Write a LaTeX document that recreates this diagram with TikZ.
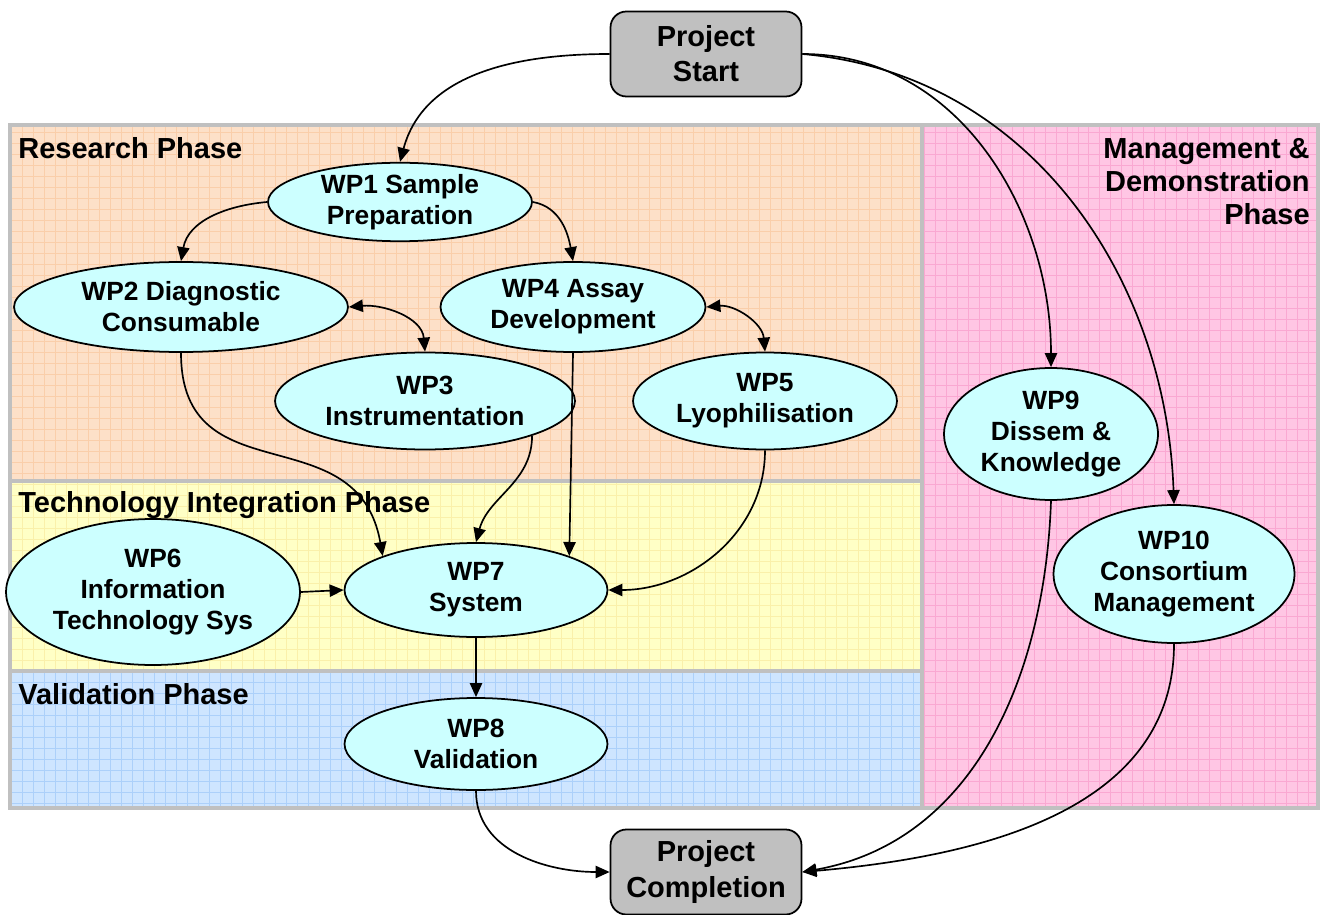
\documentclass[tikz,border=0pt]{standalone}
\usepackage{fontspec}
\setmainfont{Liberation Sans}
\usepackage{tikz}
\usetikzlibrary{positioning,arrows.meta,shapes}
\usepackage{xcolor}
\definecolor{BoxGray}{RGB}{192,192,192}
\definecolor{WPCyan}{RGB}{204,255,255}
\definecolor{ResearchBg}{RGB}{253,224,200}
\definecolor{ResearchGrid}{RGB}{250,206,170}
\definecolor{TechBg}{RGB}{255,255,198}
\definecolor{TechGrid}{RGB}{250,240,170}
\definecolor{ValidBg}{RGB}{206,229,255}
\definecolor{ValidGrid}{RGB}{172,208,250}
\definecolor{MgmtBg}{RGB}{255,198,228}
\definecolor{MgmtGrid}{RGB}{250,168,210}
\newcommand\wpfont{\fontsize{15}{17.6}\selectfont\bfseries}
\newcommand\phasefont{\fontsize{16.5}{18.8}\selectfont\bfseries}
\newcommand\msfont{\fontsize{16.5}{20}\selectfont\bfseries}

\begin{document}
\begin{tikzpicture}[
    x=0.02cm, y=-0.02cm,
    wp/.style={ellipse, draw, line width=1pt, fill=WPCyan, inner sep=0pt, align=center, font=\wpfont},
    milestone/.style={rectangle, rounded corners=9pt, draw, line width=1pt, fill=BoxGray, minimum width=3.82cm, minimum height=1.7cm, align=center, font=\msfont},
    phase/.style={draw=BoxGray, line width=2.3pt},
    title/.style={font=\phasefont, anchor=west, inner sep=0pt},
    link/.style={-{Triangle[length=8pt,width=7pt]}, line width=0.95pt},
    twoway/.style={{Triangle[length=8pt,width=7pt]}-{Triangle[length=8pt,width=7pt]}, line width=0.95pt},
]
\useasboundingbox (0,0) rectangle (1324,915);

\foreach \xa/\ya/\xb/\yb/\c in {10/125/922/481/Research, 10/481/922/671/Tech, 10/671/922/808/Valid, 922/125/1318/808/Mgmt} {
    \fill[\c Bg] (\xa,\ya) rectangle (\xb,\yb);
    \begin{scope}
        \clip (\xa,\ya) rectangle (\xb,\yb);
        \draw[\c Grid, line width=0.35pt, step=0.22cm] (\xa,\ya) grid (\xb,\yb);
    \end{scope}
    \draw[phase] (\xa,\ya) rectangle (\xb,\yb);
}

\node[title] (research) at (18,148) {Research Phase};
\node[title] (tech) at (18,505) {Technology Integration Phase};
\node[title] (valid) at (18,694) {Validation Phase};
\node[font=\phasefont, align=right, anchor=north east, inner sep=0pt] (mgmt) at (1310,138) {Management \&\\Demonstration\\Phase};

\node[milestone] (start) at (706,54) {Project\\Start};
\node[milestone] (finish) at (706,872) {Project\\Completion};

\node[wp, minimum width=5.28cm, minimum height=1.54cm] (wp1) at (400,202) {WP1 Sample\\Preparation};
\node[wp, minimum width=6.68cm, minimum height=1.8cm] (wp2) at (181,307) {WP2 Diagnostic\\Consumable};
\node[wp, minimum width=5.3cm, minimum height=1.8cm] (wp4) at (573,307) {WP4 Assay\\Development};
\node[wp, minimum width=6.0cm, minimum height=1.94cm] (wp3) at (425,401) {WP3\\Instrumentation};
\node[wp, minimum width=5.28cm, minimum height=1.94cm] (wp5) at (765,401) {WP5\\Lyophilisation};
\node[wp, minimum width=5.88cm, minimum height=2.92cm] (wp6) at (153,592) {WP6\\Information\\Technology Sys};
\node[wp, minimum width=5.26cm, minimum height=1.88cm] (wp7) at (476,590) {WP7\\System};
\node[wp, minimum width=5.26cm, minimum height=1.84cm] (wp8) at (476,744) {WP8\\Validation};
\node[wp, minimum width=4.28cm, minimum height=2.64cm] (wp9) at (1051,434) {WP9\\Dissem \&\\Knowledge};
\node[wp, minimum width=4.82cm, minimum height=2.76cm] (wp10) at (1174,574) {WP10\\Consortium\\Management};

\draw[link] (start.west) to[out=180, in=75] (wp1.north);
\draw[link] (start.east) to[out=0, in=90] (wp9.north);
\draw[link] (start.east) to[out=-5, in=92] (wp10.north);
\draw[link] (wp1.west) to[out=185, in=80] (wp2.north);
\draw[link] (wp1.east) to[out=-10, in=100] (wp4.north);
\draw[twoway] (wp2.east) to[out=5, in=95] (wp3.north);
\draw[twoway] (wp4.east) to[out=5, in=95] (wp5.north);
\draw[link] (wp2.south) to[out=-90, in=100, looseness=1.3] (wp7.160);
\draw[link] (wp3.-18) to[out=-90, in=75] (wp7.north);
\draw[link] (wp4.south) -- (wp7.20);
\draw[link] (wp5.south) to[out=-90, in=0] (wp7.east);
\draw[link] (wp6.east) -- (wp7.west);
\draw[link] (wp7.south) -- (wp8.north);
\draw[link] (wp8.south) to[out=-90, in=180] (finish.west);
\draw[link] (wp9.south) to[out=-92, in=10] (finish.east);
\draw[link] (wp10.south) to[out=-90, in=5] (finish.east);
\end{tikzpicture}
\end{document}
